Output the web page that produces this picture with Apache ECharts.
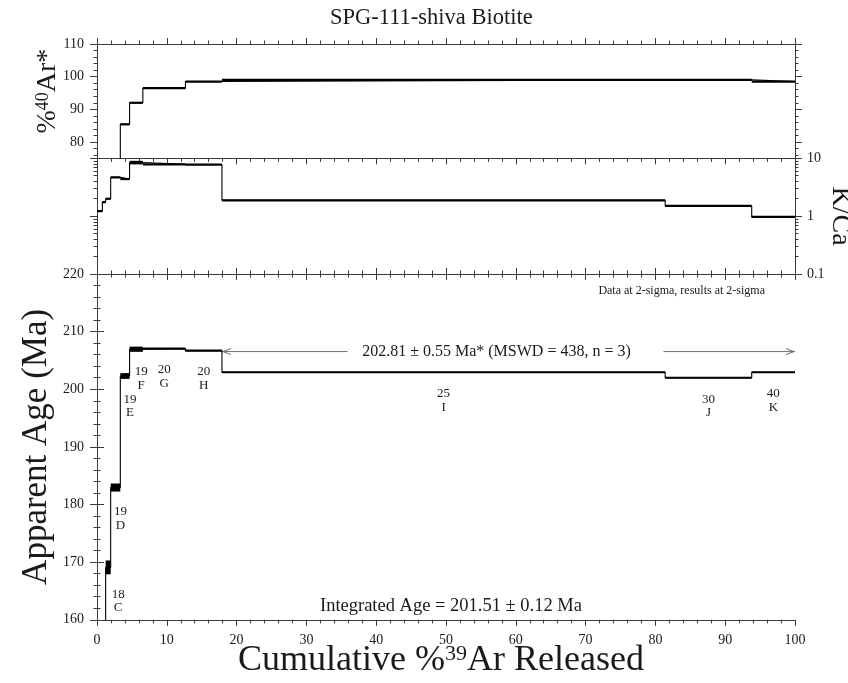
<!DOCTYPE html>
<html>
<head>
<meta charset="utf-8">
<script src="https://cdn.jsdelivr.net/npm/echarts@6/dist/echarts.min.js"></script>
<style>
  html, body { margin: 0; padding: 0; background: #fff; }
  #chart { width: 848px; height: 683px; }
</style>
</head>
<body>
<div id="chart"></div>
<script>
// Heating steps
const stepIds   = ['A', 'B', 'C', 'D', 'E', 'F', 'G', 'H', 'I', 'J', 'K'];
const stepPower = [null, null, 18, 19, 19, 19, 20, 20, 25, 30, 40];
// Cumulative %39Ar released at the end of each step
const cumEnd    = [0.77, 1.24, 1.96, 3.34, 4.67, 6.57, 12.67, 17.9, 81.4, 93.8, 100];
// Apparent age (Ma) with 2-sigma errors
const ages      = [120, 150, 169.1, 182.95, 202.3, 206.95, 207.05, 206.7, 202.95, 202.0, 202.95];
const ageErr    = [2, 2, 1.2, 0.7, 0.5, 0.45, 0.15, 0.15, 0.1, 0.12, 0.12];
// Radiogenic 40Ar (%)
const radPct    = [30, 50, 62, 72, 85.4, 92.0, 96.5, 98.5, 99.0, 99.0, 98.5];
// K/Ca with 2-sigma errors
const kca       = [1.22, 1.75, 2.0, 4.68, 4.38, 8.45, 7.85, 7.8, 1.88, 1.5, 0.97];
const kcaErr    = [0.03, 0.08, 0.05, 0.15, 0.15, 0.6, 0.1, 0.1, 0.03, 0.03, 0.03];
// Plateau and integrated results
const plateauSteps = ['I', 'J', 'K'];
const plateauAge = 202.81, plateauErr = 0.55, plateauMswd = 438, plateauN = 3;
const integratedAge = 201.51, integratedErr = 0.12;
// Axis tick values
const radMajor = [80, 90, 100, 110];
const kcaMajor = [0.1, 1, 10];

const SERIF = '"Liberation Serif", "Times New Roman", serif';
const AXIS = '#3a3a3a';
const TXT = '#1a1a1a';

const stepStart = cumEnd.map((v, i) => (i === 0 ? 0 : cumEnd[i - 1]));

// minor ticks every 2 between the labelled tens
const radMinor = [];
for (let v = 76; v < 110; v += 2) if (v % 10 !== 0) radMinor.push(v);
// log minor ticks 2..9 in each decade
const kcaMinor = [];
[0.1, 1].forEach(d => { for (let k = 2; k <= 9; k++) kcaMinor.push(+(d * k).toFixed(3)); });

function stepPath(vals) {
  const pts = [];
  vals.forEach((v, i) => { pts.push([stepStart[i], v]); pts.push([cumEnd[i], v]); });
  return pts;
}
function boxData(vals, errs) {
  return vals.map((v, i) => [stepStart[i], cumEnd[i], v, errs ? errs[i] : 0, i]);
}
function clipToGrid(params, shape) {
  const c = params.coordSys;
  return echarts.graphic.clipRectByRect(shape, { x: c.x, y: c.y, width: c.width, height: c.height });
}

// Error boxes (minimum visible thickness), optional step labels below
function boxRenderer(withLabels) {
  return function (params, api) {
    const x0 = api.value(0), x1 = api.value(1), v = api.value(2), e = api.value(3), i = api.value(4);
    const hi = api.coord([x0, v + e]);
    const lo = api.coord([x1, v - e]);
    let y = hi[1], h = lo[1] - hi[1];
    if (h < 2.2) { y = (hi[1] + lo[1]) / 2 - 1.1; h = 2.2; }
    const shape = clipToGrid(params, { x: hi[0], y: y, width: lo[0] - hi[0], height: h });
    if (!shape) return null;
    const children = [{ type: 'rect', shape: shape, style: { fill: '#000' } }];
    if (withLabels && stepPower[i] != null) {
      const w = x1 - x0;
      const dx = w < 1 ? 10 : (w < 2.5 ? 5 : 0);
      children.push({
        type: 'text',
        x: (hi[0] + lo[0]) / 2 + dx,
        y: y + h + 13.5,
        style: {
          text: stepPower[i] + '\n' + stepIds[i],
          textAlign: 'center', textVerticalAlign: 'top',
          font: '13px ' + SERIF, lineHeight: 13.5, fill: TXT
        }
      });
    }
    return { type: 'group', children: children };
  };
}

// Plateau arrow spanning the plateau steps
const plateauIdx = plateauSteps.map(s => stepIds.indexOf(s));
const plateauFrom = stepStart[plateauIdx[0]];
const plateauTo = cumEnd[plateauIdx[plateauIdx.length - 1]];
const plateauTop = Math.max.apply(null, plateauIdx.map(i => ages[i] + ageErr[i]));
const plateauText = plateauAge.toFixed(2) + ' \u00b1 ' + plateauErr.toFixed(2) +
  ' Ma* (MSWD = ' + plateauMswd + ', n = ' + plateauN + ')';

function plateauRenderer(params, api) {
  const a = api.coord([api.value(0), api.value(2)]);
  const b = api.coord([api.value(1), api.value(2)]);
  const y = a[1] - 20;
  const mid = (a[0] + b[0]) / 2;
  const tx = mid - 12;
  const gl = mid - 161, gr = mid + 155;
  const ls = { stroke: '#6e6e6e', lineWidth: 1, fill: null };
  return {
    type: 'group',
    children: [
      { type: 'line', shape: { x1: a[0], y1: y, x2: gl, y2: y }, style: ls },
      { type: 'line', shape: { x1: gr, y1: y, x2: b[0], y2: y }, style: ls },
      { type: 'polyline', shape: { points: [[a[0] + 9, y - 3], [a[0] + 1, y], [a[0] + 9, y + 3]] }, style: ls },
      { type: 'polyline', shape: { points: [[b[0] - 9, y - 3], [b[0] - 1, y], [b[0] - 9, y + 3]] }, style: ls },
      { type: 'text', x: tx, y: y, style: { text: plateauText, textAlign: 'center', textVerticalAlign: 'middle', font: '16px ' + SERIF, fill: TXT } }
    ]
  };
}

const chart = echarts.init(document.getElementById('chart'), null, { renderer: 'canvas' });

const lineAxis = { show: true, lineStyle: { color: AXIS, width: 1 } };

function xAxisDef(grid, pos, opts) {
  return Object.assign({
    type: 'value', gridIndex: grid, position: pos, min: 0, max: 100, interval: 10,
    axisLine: lineAxis,
    axisTick: { show: true, length: 6, inside: false, lineStyle: { color: AXIS } },
    minorTick: { show: true, splitNumber: 5, length: 3.5, lineStyle: { color: AXIS } },
    axisLabel: { show: false },
    splitLine: { show: false }, minorSplitLine: { show: false }
  }, opts || {});
}

function tickOnlyAxis(grid, pos, type, min, max, values, len, extra) {
  return Object.assign({
    type: type, gridIndex: grid, position: pos, min: min, max: max,
    axisLine: { show: false },
    axisTick: { show: true, length: len, customValues: values, lineStyle: { color: AXIS } },
    axisLabel: { show: false },
    splitLine: { show: false }
  }, extra || {});
}

const gridBase = { left: 97, right: 53, containLabel: false, outerBoundsMode: 'none' };
const insideTicks = { show: true, length: 6, inside: true, lineStyle: { color: AXIS } };

const option = {
  backgroundColor: '#fff',
  animation: false,
  title: {
    text: 'SPG-111-shiva Biotite',
    left: 325, top: 2,
    textStyle: { fontFamily: SERIF, fontSize: 22.5, fontWeight: 'normal', color: TXT }
  },
  grid: [
    Object.assign({ top: 44, height: 114.3 }, gridBase),
    Object.assign({ top: 158.3, height: 115.7 }, gridBase),
    Object.assign({ top: 274, height: 345.8 }, gridBase)
  ],
  xAxis: [
    xAxisDef(0, 'top'),
    xAxisDef(1, 'top', { axisTick: insideTicks }),
    xAxisDef(1, 'bottom', { axisTick: insideTicks }),
    xAxisDef(2, 'top', { axisTick: insideTicks }),
    xAxisDef(2, 'bottom', {
      axisLabel: { show: true, margin: 14, color: TXT, fontFamily: SERIF, fontSize: 14 },
      name: 'Cumulative %{sup|39}Ar Released',
      nameLocation: 'middle', nameGap: 23, nameMoveOverlap: false,
      nameTextStyle: {
        fontFamily: SERIF, fontSize: 36, color: TXT, padding: [0, 10, 0, 0],
        rich: { sup: { fontFamily: SERIF, fontSize: 22, verticalAlign: 'top', lineHeight: 23, color: TXT } }
      }
    })
  ],
  yAxis: [
    // %40Ar* panel
    {
      type: 'value', gridIndex: 0, position: 'left', min: 75, max: 110, interval: 5,
      axisLine: lineAxis,
      axisTick: { show: true, length: 7, customValues: radMajor, lineStyle: { color: AXIS } },
      axisLabel: { show: true, margin: 13, customValues: radMajor, color: TXT, fontFamily: SERIF, fontSize: 14 },
      splitLine: { show: false },
      name: '%{sup|40}Ar*', nameLocation: 'middle', nameGap: 35, nameMoveOverlap: false,
      nameTextStyle: {
        fontFamily: SERIF, fontSize: 28, color: TXT, padding: [0, 0, 0, 20],
        rich: { sup: { fontFamily: SERIF, fontSize: 18, verticalAlign: 'top', lineHeight: 18, color: TXT } }
      }
    },
    tickOnlyAxis(0, 'left', 'value', 75, 110, radMinor, 3.5, { interval: 5 }),
    {
      type: 'value', gridIndex: 0, position: 'right', min: 75, max: 110, interval: 5,
      axisLine: lineAxis,
      axisTick: { show: true, length: 7, customValues: radMajor, lineStyle: { color: AXIS } },
      axisLabel: { show: false }, splitLine: { show: false }
    },
    tickOnlyAxis(0, 'right', 'value', 75, 110, radMinor, 3.5, { interval: 5 }),
    // K/Ca panel (log)
    {
      type: 'log', logBase: 10, gridIndex: 1, position: 'left', min: 0.1, max: 10,
      axisLine: lineAxis,
      axisTick: { show: true, length: 7, customValues: kcaMajor, lineStyle: { color: AXIS } },
      axisLabel: { show: false }, splitLine: { show: false }
    },
    tickOnlyAxis(1, 'left', 'log', 0.1, 10, kcaMinor, 3.5, { logBase: 10 }),
    {
      type: 'log', logBase: 10, gridIndex: 1, position: 'right', min: 0.1, max: 10,
      axisLine: lineAxis,
      axisTick: { show: true, length: 7, customValues: kcaMajor, lineStyle: { color: AXIS } },
      axisLabel: {
        show: true, margin: 12, customValues: kcaMajor, color: TXT, fontFamily: SERIF, fontSize: 14,
        formatter: v => String(+(+v).toPrecision(3))
      },
      splitLine: { show: false },
      name: 'K/Ca', nameLocation: 'middle', nameRotate: -90, nameGap: 31, nameMoveOverlap: false,
      nameTextStyle: { fontFamily: SERIF, fontSize: 28, color: TXT }
    },
    tickOnlyAxis(1, 'right', 'log', 0.1, 10, kcaMinor, 3.5, { logBase: 10 }),
    // Age spectrum panel
    {
      type: 'value', gridIndex: 2, position: 'left', min: 160, max: 220, interval: 10,
      axisLine: lineAxis,
      axisTick: { show: true, length: 7, lineStyle: { color: AXIS } },
      minorTick: { show: true, splitNumber: 5, length: 3.5, lineStyle: { color: AXIS } },
      axisLabel: { show: true, margin: 13, color: TXT, fontFamily: SERIF, fontSize: 14 },
      splitLine: { show: false }, minorSplitLine: { show: false },
      name: 'Apparent Age (Ma)', nameLocation: 'middle', nameGap: 43, nameMoveOverlap: false,
      nameTextStyle: { fontFamily: SERIF, fontSize: 35, color: TXT }
    },
    {
      type: 'value', gridIndex: 2, position: 'right', min: 160, max: 220, interval: 10,
      axisLine: lineAxis,
      axisTick: { show: true, length: 7, lineStyle: { color: AXIS } },
      minorTick: { show: true, splitNumber: 5, length: 3.5, lineStyle: { color: AXIS } },
      axisLabel: { show: false }, splitLine: { show: false }, minorSplitLine: { show: false }
    }
  ],
  graphic: [
    {
      type: 'text', x: 765, y: 291,
      style: { text: 'Data at 2-sigma, results at 2-sigma', textAlign: 'right', textVerticalAlign: 'middle', font: '12px ' + SERIF, fill: TXT }
    },
    {
      type: 'text', x: 451, y: 606,
      style: {
        text: 'Integrated Age = ' + integratedAge.toFixed(2) + ' \u00b1 ' + integratedErr.toFixed(2) + ' Ma',
        textAlign: 'center', textVerticalAlign: 'middle', font: '18.5px ' + SERIF, fill: TXT
      }
    }
  ],
  series: [
    // %40Ar*
    { type: 'line', xAxisIndex: 0, yAxisIndex: 0, data: stepPath(radPct), symbol: 'none', clip: true,
      lineStyle: { color: '#000', width: 1.1 }, silent: true },
    { type: 'custom', xAxisIndex: 0, yAxisIndex: 0, data: boxData(radPct, null),
      encode: { x: [0, 1], y: 2 }, renderItem: boxRenderer(false), silent: true },
    // K/Ca
    { type: 'line', xAxisIndex: 1, yAxisIndex: 4, data: stepPath(kca), symbol: 'none', clip: true,
      lineStyle: { color: '#000', width: 1.1 }, silent: true },
    { type: 'custom', xAxisIndex: 1, yAxisIndex: 4, data: boxData(kca, kcaErr),
      encode: { x: [0, 1], y: 2 }, renderItem: boxRenderer(false), silent: true },
    // Age spectrum
    { type: 'line', xAxisIndex: 3, yAxisIndex: 8, data: stepPath(ages), symbol: 'none', clip: true,
      lineStyle: { color: '#000', width: 1.1 }, silent: true },
    { type: 'custom', xAxisIndex: 3, yAxisIndex: 8, data: boxData(ages, ageErr),
      encode: { x: [0, 1], y: 2 }, renderItem: boxRenderer(true), silent: true },
    // Plateau
    { type: 'custom', xAxisIndex: 3, yAxisIndex: 8, data: [[plateauFrom, plateauTo, plateauTop]],
      encode: { x: [0, 1], y: 2 }, renderItem: plateauRenderer, silent: true, clip: false }
  ]
};

chart.setOption(option);
</script>
</body>
</html>
